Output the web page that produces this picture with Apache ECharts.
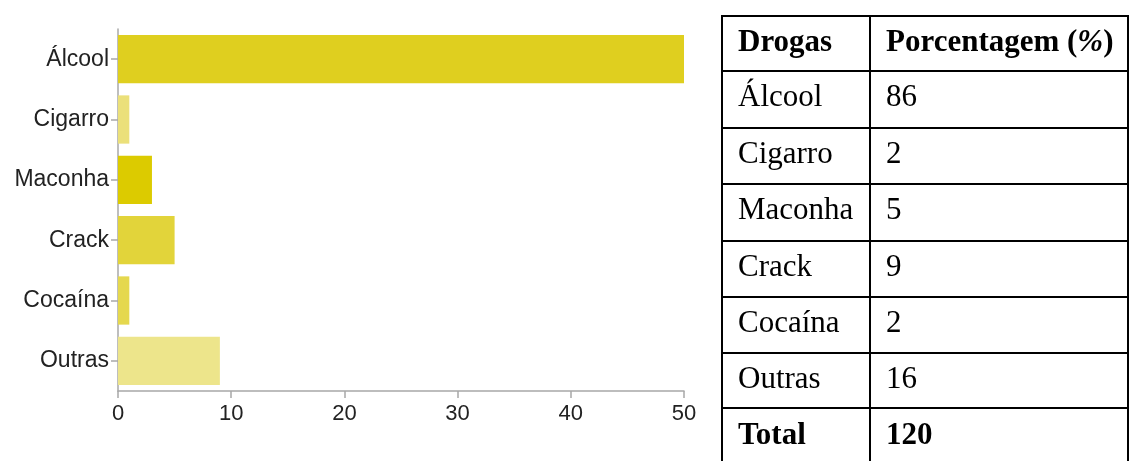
<!DOCTYPE html>
<html><head><meta charset="utf-8">
<script src="https://cdn.jsdelivr.net/npm/echarts@6/dist/echarts.min.js"></script>
<style>html,body{margin:0;padding:0;background:#fff}#c{width:1130px;height:461px}</style>
</head><body><div id="c"></div>
<script>
const categories = ['Álcool', 'Cigarro', 'Maconha', 'Crack', 'Cocaína', 'Outras'];
const barValues = [50, 1, 3, 5, 1, 9];
const barColors = ['#dfcf1f', '#ebe07a', '#dccb00', '#e2d43a', '#e5d84e', '#ede58b'];
const xTickMin = 0, xTickMax = 50, xTickStep = 10;
const tableHeader = ['Drogas', 'Porcentagem (%)'];
const tableDrugs = ['Álcool', 'Cigarro', 'Maconha', 'Crack', 'Cocaína', 'Outras'];
const tablePercent = ['86', '2', '5', '9', '2', '16'];
const tableTotal = ['Total', '120'];

const chart = echarts.init(document.getElementById('c'));

// table layout
const tblLeft = 722, tblMid = 870, tblRight = 1128, tblTop = 16, tblBottom = 461;
const rowLines = [16, 71, 128, 184, 241, 297, 353, 408];
const baselines = [50, 105, 162, 218, 275, 331, 387, 443];
const fs = 31;
const serif = '"Liberation Serif", "Times New Roman", serif';
const g = [];
rowLines.forEach(y => g.push({type: 'line', shape: {x1: tblLeft - 1, y1: y, x2: tblRight + 1, y2: y}, style: {stroke: '#000', lineWidth: 2}}));
[tblLeft, tblMid, tblRight].forEach(x => g.push({type: 'line', shape: {x1: x, y1: tblTop - 1, x2: x, y2: tblBottom}, style: {stroke: '#000', lineWidth: 2}}));
const rows = [[tableHeader[0], tableHeader[1], true]]
  .concat(tableDrugs.map((d, i) => [d, tablePercent[i], false]))
  .concat([[tableTotal[0], tableTotal[1], true]]);
rows.forEach((r, i) => {
  const y = baselines[i] - 0.22 * fs;
  const w = r[2] ? 'bold' : 'normal';
  g.push({type: 'text', x: 738, y: y, style: {text: r[0], font: w + ' ' + fs + 'px ' + serif, fill: '#000', verticalAlign: 'middle', align: 'left'}});
  if (i === 0) {
    const m = r[1].match(/^(.*\()(%)(\))$/);
    g.push({type: 'text', x: 886, y: y, style: {
      text: '{a|' + m[1] + '}{b|' + m[2] + '}{a|' + m[3] + '}',
      rich: {a: {fontFamily: serif, fontSize: fs, fontWeight: 'bold', fill: '#000'}, b: {fontFamily: serif, fontSize: fs, fontWeight: 'bold', fontStyle: 'italic', fill: '#000'}},
      verticalAlign: 'middle', align: 'left'}});
  } else {
    g.push({type: 'text', x: 886, y: y, style: {text: r[1], font: w + ' ' + fs + 'px ' + serif, fill: '#000', verticalAlign: 'middle', align: 'left'}});
  }
});

chart.setOption({
  animation: false,
  backgroundColor: '#fff',
  grid: {left: 118, right: 446, top: 29, bottom: 70, containLabel: false},
  xAxis: {
    type: 'value', min: xTickMin, max: xTickMax, interval: xTickStep,
    axisLine: {show: true, lineStyle: {color: '#a8a8a8', width: 1.5}},
    axisTick: {show: true, length: 7, lineStyle: {color: '#a8a8a8', width: 1.5}},
    splitLine: {show: false},
    axisLabel: {color: '#222', fontSize: 22, fontFamily: '"Liberation Sans", Arial, sans-serif', margin: 12}
  },
  yAxis: {
    type: 'category', data: categories, inverse: true,
    axisLine: {show: true, lineStyle: {color: '#a8a8a8', width: 1.5}},
    axisTick: {show: true, alignWithLabel: true, length: 7, lineStyle: {color: '#a8a8a8', width: 1.5}},
    axisLabel: {color: '#222', fontSize: 23, fontFamily: '"Liberation Sans", Arial, sans-serif', margin: 9}
  },
  series: [{
    type: 'bar',
    data: barValues.map((v, i) => ({value: v, itemStyle: {color: barColors[i]}})),
    barCategoryGap: '20%'
  }],
  graphic: g
});
</script></body></html>
